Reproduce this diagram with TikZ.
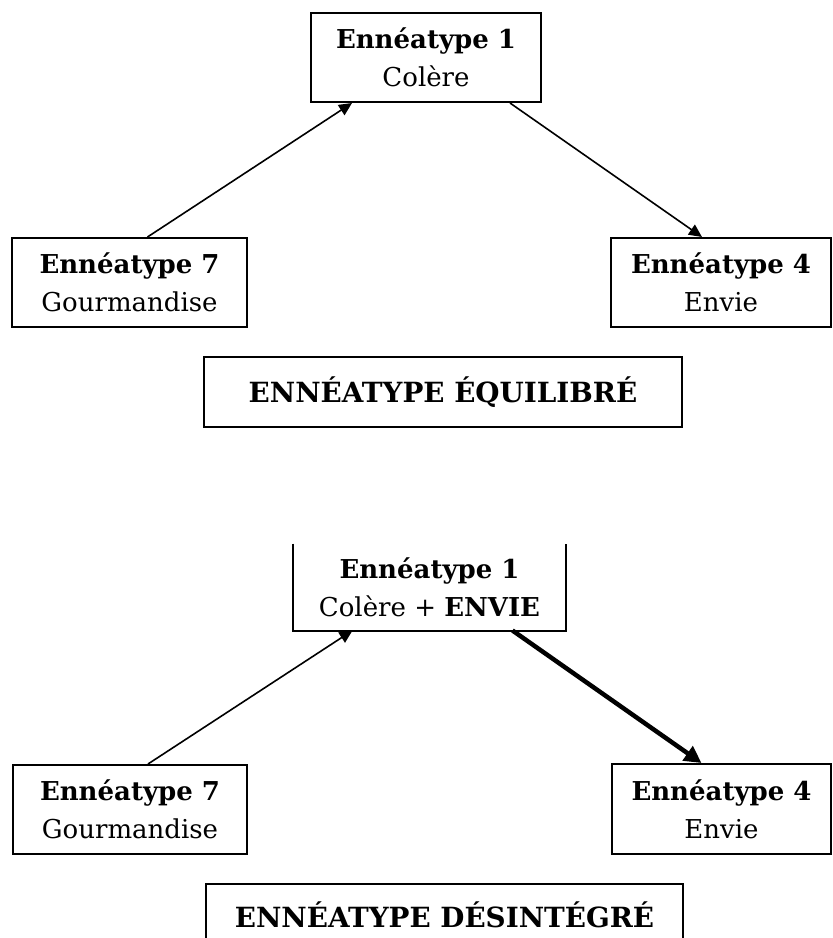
\documentclass[tikz,border=0pt]{standalone}
\usepackage{fontspec}
\setmainfont{DejaVu Serif}
\usetikzlibrary{arrows.meta}
\begin{document}
\begin{tikzpicture}[x=1pt,y=-1pt,
  box/.style={draw=black, line width=2pt, align=center, inner sep=0pt, minimum height=89pt, font=\fontsize{26}{38}\selectfont},
  titlebox/.style={draw=black, line width=2pt, inner sep=0pt, font=\fontsize{27.8}{33}\selectfont\bfseries},
  thin/.style={line width=1.6pt, -{Triangle[length=13pt,width=12pt]}},
  heavy/.style={line width=4.5pt, -{Triangle[length=17pt,width=17pt]}}]
\useasboundingbox (0,0) rectangle (833,938);
% equilibre
\node [box, minimum width=230pt] (t1) at (426,57.5) {\textbf{Ennéatype 1}\\Colère};
\node [box, minimum width=235pt] (t7) at (129.5,282.5) {\textbf{Ennéatype 7}\\Gourmandise};
\node [box, minimum width=220pt] (t4) at (721,282.5) {\textbf{Ennéatype 4}\\Envie};
\node [titlebox, minimum width=478pt, minimum height=70pt] (eq) at (443,392) {ENNÉATYPE ÉQUILIBRÉ};
\draw [thin] ([xshift=18pt]t7.north) -- ([xshift=-74pt]t1.south);
\draw [thin] ([xshift=84pt]t1.south) -- ([xshift=-19pt]t4.north);
% desintegre
\node [box, draw=none, minimum width=271pt, minimum height=85pt] (l1) at (429.5,587) {\textbf{Ennéatype 1}\\Colère + \textbf{ENVIE}};
\draw [line width=2pt] (l1.north west) -- (l1.south west) -- (l1.south east) -- (l1.north east);
\node [box, minimum width=234pt] (l7) at (130,809.5) {\textbf{Ennéatype 7}\\Gourmandise};
\node [box, minimum width=219pt, minimum height=90pt] (l4) at (721.5,809) {\textbf{Ennéatype 4}\\Envie};
\node [titlebox, minimum width=477pt, minimum height=62pt] (des) at (444.5,915) {ENNÉATYPE DÉSINTÉGRÉ};
\draw [thin] ([xshift=18pt]l7.north) -- ([xshift=-77pt]l1.south);
\draw [heavy] ([xshift=83pt]l1.south) -- ([xshift=-20pt]l4.north);
\end{tikzpicture}
\end{document}
